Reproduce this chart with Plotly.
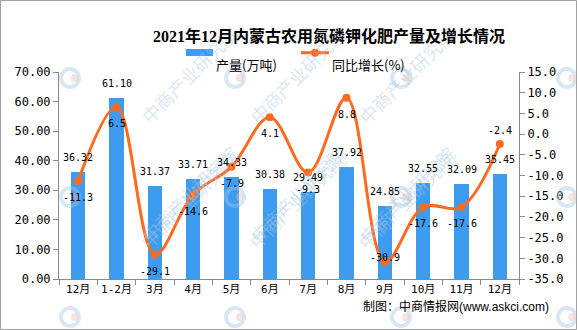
import plotly.graph_objects as go

# ---------------- data ----------------
months = ["12月", "1-2月", "3月", "4月", "5月", "6月", "7月", "8月", "9月", "10月", "11月", "12月"]
output = [36.32, 61.10, 31.37, 33.71, 34.33, 30.38, 29.49, 37.92, 24.85, 32.55, 32.09, 35.45]
growth = [-11.3, 6.5, -29.1, -14.6, -7.9, 4.1, -9.3, 8.8, -30.9, -17.6, -17.6, -2.4]
left_ticks = [0, 10, 20, 30, 40, 50, 60, 70]
right_ticks = [-35, -30, -25, -20, -15, -10, -5, 0, 5, 10, 15]

title = "2021年12月内蒙古农用氮磷钾化肥产量及增长情况"
bar_name = "产量(万吨)"
line_name = "同比增长(%)"
source = "制图：中商情报网(www.askci.com)"
watermark = "中商产业研究院"

# ---------------- style ----------------
W, H = 577, 330
L, R, T, B = 59, 519, 72, 279
BLUE = "#3D9CF0"
ORANGE = "#FF6A1F"
AXIS = "#898989"
MONO = "DejaVu Sans Mono, Noto Sans CJK SC"
CJK = "Noto Sans CJK SC"

label_side = ["below"] * 8 + ["on", "below", "below", "above"]
side_shift = {"below": -16.5, "above": 14, "on": 5}


def px(x):
    return (x - L) / (R - L)


def py(y):
    return (B - y) / (B - T)


xs = list(range(len(months)))

fig = go.Figure()
fig.add_trace(go.Bar(x=xs, y=output, width=0.37, marker=dict(color=BLUE, line=dict(width=0)),
                     name=bar_name, yaxis="y"))
fig.add_trace(go.Scatter(x=xs, y=growth, yaxis="y2", name=line_name, mode="lines+markers",
                         line=dict(color=ORANGE, width=3, shape="spline", smoothing=1.0),
                         marker=dict(color=ORANGE, size=8)))

annotations = []
shapes = []

# watermarks (faint, diagonal)
wm_col = "rgba(165,198,225,0.42)"
for lx in [70, 235, 401, 567]:
    for ly in [78, 197, 317]:
        if lx + 62 < W - 40:
            annotations.append(dict(x=px(lx + 62), y=py(ly - 60), xref="paper", yref="paper",
                                    text=watermark, showarrow=False, textangle=-45,
                                    font=dict(family=CJK, size=18, color=wm_col)))
        shapes.append(dict(type="circle", xref="paper", yref="paper",
                           x0=px(lx - 9), x1=px(lx + 9), y0=py(ly + 9), y1=py(ly - 9),
                           line=dict(color=wm_col, width=4)))
        shapes.append(dict(type="circle", xref="paper", yref="paper",
                           x0=px(lx + 1), x1=px(lx + 8), y0=py(ly + 4), y1=py(ly - 4),
                           line=dict(width=0), fillcolor="rgba(245,185,175,0.42)"))

# bar value labels
for x, v in zip(xs, output):
    annotations.append(dict(x=x, y=v, xref="x", yref="y", text=f"{v:.2f}", showarrow=False,
                            yshift=14.5, font=dict(family=MONO, size=10, color="#000")))
# line value labels
for x, v, s in zip(xs, growth, label_side):
    annotations.append(dict(x=x, y=v, xref="x", yref="y2", text=f"{v:.1f}", showarrow=False,
                            yshift=side_shift[s], font=dict(family=MONO, size=10, color="#000")))

# title
annotations.append(dict(x=px(329), y=py(24.5), xref="paper", yref="paper", text=f"<b>{title}</b>",
                        showarrow=False, font=dict(family="Liberation Serif, " + CJK, size=16, color="#000")))
# legend (manual)
shapes.append(dict(type="rect", xref="paper", yref="paper", x0=px(186), x1=px(213), y0=py(56), y1=py(49),
                   fillcolor=BLUE, line=dict(width=0)))
annotations.append(dict(x=px(214), y=py(53), xref="paper", yref="paper", xanchor="left", text=bar_name,
                        showarrow=False, font=dict(family=CJK, size=13, color="#000")))
shapes.append(dict(type="line", xref="paper", yref="paper", x0=px(301), x1=px(329), y0=py(52.7), y1=py(52.7),
                   line=dict(color=ORANGE, width=3)))
shapes.append(dict(type="circle", xref="paper", yref="paper", x0=px(311), x1=px(319), y0=py(56.7), y1=py(48.7),
                   fillcolor=ORANGE, line=dict(width=0)))
annotations.append(dict(x=px(330), y=py(53), xref="paper", yref="paper", xanchor="left", text=line_name,
                        showarrow=False, font=dict(family=CJK, size=13, color="#000")))
# source
annotations.append(dict(x=px(551), y=py(316), xref="paper", yref="paper", xanchor="right", text=source,
                        showarrow=False, font=dict(family="Liberation Sans, " + CJK, size=12, color="#000")))
# border
shapes.append(dict(type="rect", xref="paper", yref="paper", x0=px(0.5), x1=px(576.5), y0=py(329.5), y1=py(0.5),
                   line=dict(color="#A0A0A0", width=1)))

fig.update_layout(
    width=W, height=H,
    margin=dict(l=L, r=W - R, t=T, b=H - B, pad=0),
    paper_bgcolor="white", plot_bgcolor="white",
    showlegend=False,
    bargap=0,
    xaxis=dict(range=[-0.5, len(months) - 0.5], tickmode="array", tickvals=xs, ticktext=months,
               ticks="", showline=True, linecolor=AXIS, linewidth=1, showgrid=False, zeroline=False,
               tickfont=dict(family=MONO, size=11, color="#000"),
               minor=dict(tickmode="array", tickvals=[i - 0.5 for i in range(len(months) + 1)],
                          ticks="outside", ticklen=5, tickcolor=AXIS, showgrid=False)),
    yaxis=dict(range=[0, 70], tickmode="array", tickvals=left_ticks, ticktext=[f"{v:.2f}" for v in left_ticks],
               ticks="outside", ticklen=5, tickcolor=AXIS, showline=True, linecolor=AXIS, linewidth=1,
               showgrid=False, zeroline=False, tickfont=dict(family=MONO, size=12, color="#000")),
    yaxis2=dict(range=[-35, 15], overlaying="y", side="right", tickmode="array", tickvals=right_ticks,
                ticktext=[f"{v:.1f}" for v in right_ticks], ticks="outside", ticklen=5, tickcolor=AXIS,
                showline=True, linecolor=AXIS, linewidth=1, showgrid=False, zeroline=False,
                tickfont=dict(family=MONO, size=12, color="#000")),
    annotations=annotations,
    shapes=shapes,
)

fig.write_html("out.html")
